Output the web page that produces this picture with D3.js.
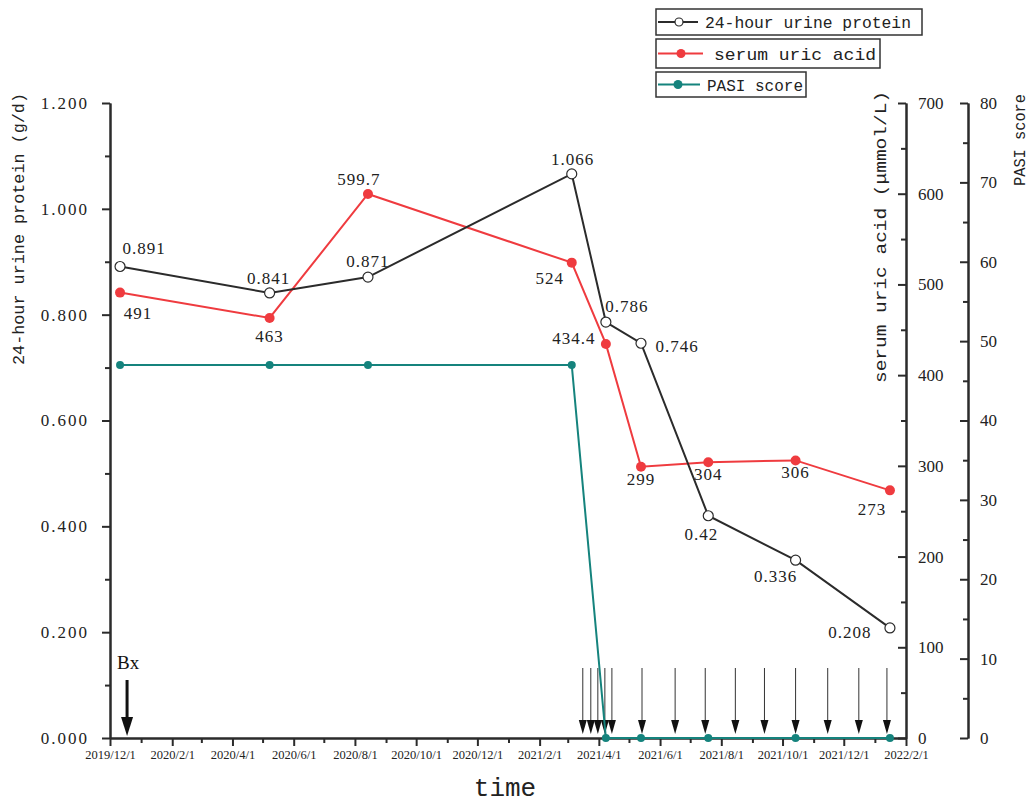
<!DOCTYPE html>
<html>
<head>
<meta charset="utf-8">
<script src="https://cdn.jsdelivr.net/npm/d3@7"></script>
<style>
  body { margin: 0; background: #fff; }
  svg { display: block; }
</style>
</head>
<body>
<svg width="1031" height="803"></svg>
<script>
// ---- data ----
var visitDates = ["2019-12-11", "2020-05-08", "2020-08-14", "2021-03-05", "2021-04-08",
                  "2021-05-13", "2021-07-19", "2021-10-14", "2022-01-16"];
var urineProtein = [0.891, 0.841, 0.871, 1.066, 0.786, 0.746, 0.42, 0.336, 0.208];
var uricAcid = [491, 463, 599.7, 524, 434.4, 299, 304, 306, 273];
var pasiScore = [47, 47, 47, 47, 0, 0, 0, 0, 0];

// injection arrows and biopsy
var doseDates = ["2021-03-16", "2021-03-24", "2021-03-31", "2021-04-07", "2021-04-14",
                 "2021-05-14", "2021-06-16", "2021-07-16", "2021-08-15", "2021-09-13",
                 "2021-10-14", "2021-11-15", "2021-12-16", "2022-01-13"];
var biopsyDate = "2019-12-18";

var xTickDates = ["2019-12-01", "2020-02-01", "2020-04-01", "2020-06-01", "2020-08-01",
                  "2020-10-01", "2020-12-01", "2021-02-01", "2021-04-01", "2021-06-01",
                  "2021-08-01", "2021-10-01", "2021-12-01", "2022-02-01"];
var xMinorDates = ["2020-01-01", "2020-03-01", "2020-05-01", "2020-07-01", "2020-09-01",
                   "2020-11-01", "2021-01-01", "2021-03-01", "2021-05-01", "2021-07-01",
                   "2021-09-01", "2021-11-01", "2022-01-01"];
var leftTicks = [0, 0.2, 0.4, 0.6, 0.8, 1.0, 1.2];
var uricTicks = [0, 100, 200, 300, 400, 500, 600, 700];
var pasiTicks = [0, 10, 20, 30, 40, 50, 60, 70, 80];

// label offsets (layout only)
var urineLabelOff = [[24, -13], [-1, -9], [0, -10], [1, -9], [21, -10], [36, 9], [-7, 24], [-20, 22], [-40, 10]];
var uricLabelOff = [[18, 26], [0, 24], [-9, -9], [-22, 21], [-32, 0], [0, 18], [0, 18], [0, 18], [-18, 25]];

var colBlack = "#2b2b2b", colRed = "#ef3b3f", colTeal = "#15837d";
var parseDate = d3.timeParse("%Y-%m-%d");

var svg = d3.select("svg");

// scales
var plotLeft = 110, plotRight = 906, plotTop = 103, plotBottom = 738, pasiX = 968;
var x = d3.scaleTime()
    .domain([parseDate("2019-12-01"), parseDate("2022-02-01")])
    .range([plotLeft, plotRight]);
var yL = d3.scaleLinear().domain([0, 1.2]).range([plotBottom, plotTop]);
var yU = d3.scaleLinear().domain([0, 700]).range([plotBottom, plotTop]);
var yP = d3.scaleLinear().domain([0, 80]).range([plotBottom, plotTop]);

var serif = "'Liberation Serif', 'Times New Roman', serif";
var mono = "'Liberation Mono', 'DejaVu Sans Mono', monospace";

function styleAxis(g, size) {
  g.attr("font-family", null);
  g.select(".domain").attr("stroke", colBlack).attr("stroke-width", 2);
  g.selectAll(".tick line").attr("stroke", colBlack).attr("stroke-width", 2);
  g.selectAll(".tick text").attr("fill", "#222").style("font-family", serif).style("font-size", size + "px");
}

// x axis
var xAxisG = svg.append("g")
    .attr("transform", "translate(0," + plotBottom + ")")
    .call(d3.axisBottom(x).tickValues(xTickDates.map(parseDate))
      .tickFormat(d3.timeFormat("%Y/%-m/%-d")).tickSize(8).tickSizeOuter(0).tickPadding(4));
styleAxis(xAxisG, 12.5);
var xMinorG = svg.append("g")
    .attr("transform", "translate(0," + plotBottom + ")")
    .call(d3.axisBottom(x).tickValues(xMinorDates.map(parseDate)).tickFormat("").tickSize(5).tickSizeOuter(0));
styleAxis(xMinorG, 12);

// left axis
var lAxisG = svg.append("g")
    .attr("transform", "translate(" + plotLeft + ",0)")
    .call(d3.axisLeft(yL).tickValues(leftTicks).tickFormat(d3.format(".3f"))
      .tickSize(8).tickSizeOuter(0).tickPadding(13));
styleAxis(lAxisG, 17);
lAxisG.selectAll(".tick text").style("letter-spacing", "2px");
var lMinorG = svg.append("g")
    .attr("transform", "translate(" + plotLeft + ",0)")
    .call(d3.axisLeft(yL).tickValues([0.1, 0.3, 0.5, 0.7, 0.9, 1.1]).tickFormat("").tickSize(5).tickSizeOuter(0));
styleAxis(lMinorG, 17);

// uric acid axis (ticks point inward)
var uAxisG = svg.append("g")
    .attr("transform", "translate(" + plotRight + ",0)")
    .call(d3.axisRight(yU).tickValues(uricTicks).tickSizeInner(-8).tickSizeOuter(0).tickPadding(12));
styleAxis(uAxisG, 17);
var uMinorG = svg.append("g")
    .attr("transform", "translate(" + plotRight + ",0)")
    .call(d3.axisRight(yU).tickValues([50, 150, 250, 350, 450, 550, 650]).tickFormat("")
      .tickSizeInner(-5).tickSizeOuter(0));
styleAxis(uMinorG, 17);

// PASI axis
var pAxisG = svg.append("g")
    .attr("transform", "translate(" + pasiX + ",0)")
    .call(d3.axisRight(yP).tickValues(pasiTicks).tickSizeInner(-8).tickSizeOuter(0).tickPadding(12));
styleAxis(pAxisG, 17);
var pMinorG = svg.append("g")
    .attr("transform", "translate(" + pasiX + ",0)")
    .call(d3.axisRight(yP).tickValues([5, 15, 25, 35, 45, 55, 65, 75]).tickFormat("")
      .tickSizeInner(-5).tickSizeOuter(0));
styleAxis(pMinorG, 17);

// axis titles
svg.append("text")
    .attr("transform", "translate(24,229) rotate(-90)")
    .attr("text-anchor", "middle")
    .attr("textLength", 272).attr("lengthAdjust", "spacingAndGlyphs")
    .style("font-family", mono).style("font-size", "16px").attr("fill", "#222")
    .text("24-hour urine protein (g/d)");
svg.append("text")
    .attr("transform", "translate(886,237) rotate(-90)")
    .attr("text-anchor", "middle")
    .attr("textLength", 292).attr("lengthAdjust", "spacingAndGlyphs")
    .style("font-family", mono).style("font-size", "16px").attr("fill", "#222")
    .text("serum uric acid (μmmol/L)");
svg.append("text")
    .attr("transform", "translate(1025,140) rotate(-90)")
    .attr("text-anchor", "middle")
    .attr("textLength", 92).attr("lengthAdjust", "spacingAndGlyphs")
    .style("font-family", mono).style("font-size", "16px").attr("fill", "#222")
    .text("PASI score");
svg.append("text")
    .attr("x", 505).attr("y", 796)
    .attr("text-anchor", "middle")
    .style("font-family", mono).style("font-size", "26px").attr("fill", "#222")
    .text("time");

// data rows
var rows = visitDates.map(function(d, i) {
  return { date: parseDate(d), urine: urineProtein[i], uric: uricAcid[i], pasi: pasiScore[i], i: i };
});

// dose arrows
var doses = doseDates.map(parseDate);
var arrowG = svg.append("g");
arrowG.selectAll("line").data(doses).enter().append("line")
    .attr("x1", function(d) { return x(d); }).attr("x2", function(d) { return x(d); })
    .attr("y1", 668).attr("y2", 725)
    .attr("stroke", "#333").attr("stroke-width", 1);
arrowG.selectAll("path").data(doses).enter().append("path")
    .attr("d", function(d) {
      var cx = x(d);
      return "M" + (cx - 4) + ",720L" + (cx + 4) + ",720L" + cx + ",734Z";
    })
    .attr("fill", "#111");

// biopsy arrow
var bx = x(parseDate(biopsyDate));
svg.append("line").attr("x1", bx).attr("x2", bx).attr("y1", 680).attr("y2", 722)
    .attr("stroke", "#111").attr("stroke-width", 3);
svg.append("path")
    .attr("d", "M" + (bx - 6) + ",717L" + (bx + 6) + ",717L" + bx + ",736Z")
    .attr("fill", "#111");
svg.append("text").attr("x", bx + 1).attr("y", 669).attr("text-anchor", "middle")
    .style("font-family", serif).style("font-size", "19px").attr("fill", "#111")
    .text("Bx");

// lines
function drawLine(key, scale, color) {
  svg.append("path")
      .datum(rows)
      .attr("fill", "none").attr("stroke", color).attr("stroke-width", 2)
      .attr("d", d3.line().x(function(d) { return x(d.date); }).y(function(d) { return scale(d[key]); }));
}
drawLine("pasi", yP, colTeal);
drawLine("uric", yU, colRed);
drawLine("urine", yL, colBlack);

svg.append("g").selectAll("circle").data(rows).enter().append("circle")
    .attr("cx", function(d) { return x(d.date); }).attr("cy", function(d) { return yP(d.pasi); })
    .attr("r", 4).attr("fill", colTeal);
svg.append("g").selectAll("circle").data(rows).enter().append("circle")
    .attr("cx", function(d) { return x(d.date); }).attr("cy", function(d) { return yU(d.uric); })
    .attr("r", 5).attr("fill", colRed);
svg.append("g").selectAll("circle").data(rows).enter().append("circle")
    .attr("cx", function(d) { return x(d.date); }).attr("cy", function(d) { return yL(d.urine); })
    .attr("r", 5).attr("fill", "#fff").attr("stroke", colBlack).attr("stroke-width", 1.2);

// value labels
svg.append("g").selectAll("text").data(rows).enter().append("text")
    .attr("x", function(d) { return x(d.date) + urineLabelOff[d.i][0]; })
    .attr("y", function(d) { return yL(d.urine) + urineLabelOff[d.i][1]; })
    .attr("text-anchor", "middle")
    .style("font-family", serif).style("font-size", "17px").style("letter-spacing", "1px").attr("fill", "#222")
    .text(function(d) { return d3.format(".3~f")(d.urine); });
svg.append("g").selectAll("text").data(rows).enter().append("text")
    .attr("x", function(d) { return x(d.date) + uricLabelOff[d.i][0]; })
    .attr("y", function(d) { return yU(d.uric) + uricLabelOff[d.i][1]; })
    .attr("text-anchor", "middle")
    .style("font-family", serif).style("font-size", "17px").style("letter-spacing", "1px").attr("fill", "#222")
    .text(function(d) { return d.uric; });

// legend
var legendItems = [
  { name: "24-hour urine protein", color: colBlack, open: true, box: [656, 9, 266, 26], line: [658, 698], dot: 679, tx: 705, tw: 206 },
  { name: "serum uric acid", color: colRed, open: false, box: [656, 39, 224, 29], line: [658, 703], dot: 681, tx: 714, tw: 162 },
  { name: "PASI score", color: colTeal, open: false, box: [656, 72, 150, 25], line: [658, 700], dot: 678, tx: 707, tw: 96 }
];
var lg = svg.append("g").selectAll("g").data(legendItems).enter().append("g");
lg.append("rect")
    .attr("x", function(d) { return d.box[0]; }).attr("y", function(d) { return d.box[1]; })
    .attr("width", function(d) { return d.box[2]; }).attr("height", function(d) { return d.box[3]; })
    .attr("fill", "#fff").attr("stroke", "#333").attr("stroke-width", 1.5);
lg.append("line")
    .attr("x1", function(d) { return d.line[0]; }).attr("x2", function(d) { return d.line[1]; })
    .attr("y1", function(d) { return d.box[1] + d.box[3] / 2; }).attr("y2", function(d) { return d.box[1] + d.box[3] / 2; })
    .attr("stroke", function(d) { return d.color; }).attr("stroke-width", 2);
lg.append("circle")
    .attr("cx", function(d) { return d.dot; }).attr("cy", function(d) { return d.box[1] + d.box[3] / 2; })
    .attr("r", function(d) { return d.open ? 4 : 4.5; })
    .attr("fill", function(d) { return d.open ? "#fff" : d.color; })
    .attr("stroke", function(d) { return d.open ? d.color : "none"; }).attr("stroke-width", 1.2);
lg.append("text")
    .attr("x", function(d) { return d.tx; }).attr("y", function(d) { return d.box[1] + d.box[3] / 2 + 6; })
    .attr("textLength", function(d) { return d.tw; }).attr("lengthAdjust", "spacingAndGlyphs")
    .style("font-family", mono).style("font-size", "17px").attr("fill", "#222")
    .text(function(d) { return d.name; });
</script>
</body>
</html>
